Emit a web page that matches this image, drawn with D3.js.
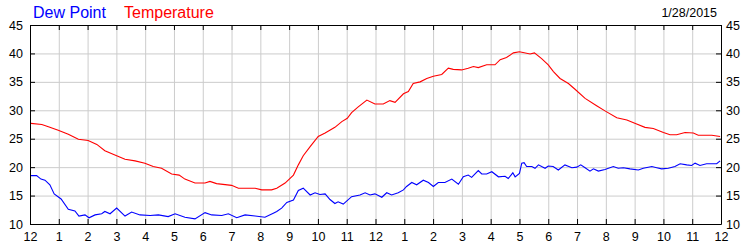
<!DOCTYPE html>
<html>
<head>
<meta charset="utf-8">
<script src="https://cdn.jsdelivr.net/npm/d3@7"></script>
<style>
  body { margin: 0; background: #fff; }
  svg { display: block; font-family: "Liberation Sans", Arial, sans-serif; }
  .grid line { stroke: #cccccc; stroke-width: 1; }
  .grid path { display: none; }
  .axis path, .axis line { stroke: #000; }
  .axis text { fill: #000; font-size: 12.5px; }
</style>
</head>
<body>
<svg id="chart" width="750" height="250"></svg>
<script>
// hours after midnight
var tempHours = [0.03,0.41,0.64,0.98,1.33,1.68,2.02,2.32,2.6,3.01,3.3,3.65,3.99,4.28,4.57,4.92,5.18,5.38,5.73,6.08,6.25,6.48,7.0,7.24,7.82,8.05,8.39,8.57,8.86,9.15,9.32,9.49,9.73,10.01,10.25,10.59,10.83,11.02,11.17,11.4,11.7,11.98,12.27,12.5,12.68,12.97,13.14,13.31,13.55,13.78,14.01,14.3,14.53,14.7,14.99,15.22,15.4,15.57,15.86,16.15,16.33,16.55,16.79,17.0,17.37,17.52,17.77,18.0,18.18,18.41,18.7,18.93,19.28,19.68,19.97,20.38,20.73,21.07,21.36,21.65,22.0,22.23,22.46,22.75,23.04,23.21,23.68,23.97];
var tempValues = [27.7,27.5,27.1,26.5,25.8,24.9,24.7,24.0,22.9,22.0,21.4,21.1,20.7,20.1,19.8,18.8,18.6,17.9,17.2,17.2,17.5,17.1,16.8,16.3,16.3,16.0,16.0,16.3,17.2,18.6,20.4,22.0,23.6,25.4,26.0,27.0,28.0,28.6,29.6,30.6,31.8,31.1,31.1,31.7,31.4,32.9,33.3,34.7,35.0,35.6,36.0,36.3,37.4,37.2,37.1,37.4,37.7,37.5,38.0,38.0,38.9,39.3,40.1,40.3,39.9,40.1,39.1,38.0,36.8,35.6,34.7,33.7,32.1,30.8,29.9,28.7,28.3,27.6,27.0,26.8,26.1,25.7,25.7,26.1,26.0,25.6,25.6,25.4];

var dewHours = [0.03,0.23,0.38,0.52,0.69,0.84,1.08,1.33,1.56,1.7,1.91,2.05,2.26,2.49,2.6,2.78,3.01,3.3,3.53,3.82,4.17,4.46,4.8,5.04,5.38,5.73,6.08,6.31,6.66,6.89,7.18,7.47,7.82,8.16,8.45,8.57,8.74,8.92,9.15,9.32,9.49,9.73,9.9,10.07,10.25,10.42,10.59,10.7,10.88,11.17,11.46,11.64,11.81,11.98,12.22,12.39,12.56,12.79,12.97,13.08,13.26,13.43,13.66,13.84,14.01,14.18,14.41,14.65,14.88,15.05,15.22,15.34,15.57,15.69,15.86,16.04,16.27,16.5,16.61,16.77,16.85,17.0,17.08,17.16,17.25,17.43,17.54,17.66,17.77,17.89,18.0,18.17,18.35,18.58,18.82,18.99,19.13,19.28,19.45,19.57,19.74,19.97,20.26,20.43,20.61,20.84,21.13,21.3,21.6,21.77,21.94,22.17,22.4,22.58,22.81,22.98,23.1,23.27,23.5,23.85,23.97];
var dewValues = [18.5,18.5,17.9,17.7,16.9,15.3,14.4,12.6,12.3,11.4,11.6,11.1,11.6,11.8,12.2,11.8,12.8,11.4,12.1,11.6,11.5,11.6,11.3,11.8,11.2,10.9,12.0,11.6,11.5,11.8,11.1,11.6,11.4,11.2,11.9,12.2,12.8,13.8,14.2,15.9,16.3,15.1,15.5,15.2,15.3,14.3,13.6,13.9,13.5,14.8,15.1,15.5,15.1,15.3,14.7,15.5,15.1,15.5,16.0,16.6,17.3,16.9,17.7,17.3,16.6,17.3,17.3,17.9,17.0,18.3,18.6,18.2,19.4,18.8,18.8,19.2,18.3,18.4,18.0,19.0,18.3,18.9,20.7,20.8,20.1,20.1,19.8,20.4,20.1,19.8,20.2,20.1,19.5,20.4,19.9,20.0,20.4,19.9,19.3,19.7,19.3,19.6,20.1,19.8,19.9,19.7,19.5,19.8,20.1,19.9,19.7,19.8,20.1,20.6,20.4,20.3,20.7,20.3,20.6,20.6,21.1];

var yTicks = [10,15,20,25,30,35,40,45];
var xTicks = d3.range(0, 25);
var dateLabel = "1/28/2015";

var svg = d3.select("#chart");
var plotLeft = 30, plotRight = 721, plotTop = 25, plotBottom = 224;

var x = d3.scaleLinear().domain([0, 24]).range([plotLeft, plotRight]);
var y = d3.scaleLinear().domain([10, 45]).range([plotBottom, plotTop]);

function hourLabel(h) { return (h % 12 === 0) ? "12" : String(h % 12); }

// grid
svg.append("g").attr("class", "grid")
    .attr("transform", "translate(0," + plotBottom + ")")
    .call(d3.axisBottom(x).tickValues(xTicks).tickSize(-(plotBottom - plotTop)).tickFormat(""));
svg.append("g").attr("class", "grid")
    .attr("transform", "translate(" + plotLeft + ",0)")
    .call(d3.axisLeft(y).tickValues(yTicks).tickSize(-(plotRight - plotLeft)).tickFormat(""));

// lines
var line = d3.line().x(function(d){ return x(d[0]); }).y(function(d){ return y(d[1]); });
svg.append("path")
    .datum(d3.zip(tempHours, tempValues))
    .attr("fill", "none").attr("stroke", "#ff0000").attr("stroke-width", 1.1)
    .attr("d", line);
svg.append("path")
    .datum(d3.zip(dewHours, dewValues))
    .attr("fill", "none").attr("stroke", "#0000ff").attr("stroke-width", 1.1)
    .attr("d", line);

// axes with inward ticks
svg.append("g").attr("class", "axis")
    .attr("transform", "translate(0," + plotBottom + ")")
    .call(d3.axisBottom(x).tickValues(xTicks).tickSizeInner(-5).tickSizeOuter(0).tickPadding(8).tickFormat(hourLabel));
svg.append("g").attr("class", "axis")
    .attr("transform", "translate(0," + plotTop + ")")
    .call(d3.axisTop(x).tickValues(xTicks).tickSizeInner(-5).tickSizeOuter(0).tickFormat(""));
svg.append("g").attr("class", "axis")
    .attr("transform", "translate(" + plotLeft + ",0)")
    .call(d3.axisLeft(y).tickValues(yTicks).tickSizeInner(-5).tickSizeOuter(0).tickPadding(7));
svg.append("g").attr("class", "axis")
    .attr("transform", "translate(" + plotRight + ",0)")
    .call(d3.axisRight(y).tickValues(yTicks).tickSizeInner(-5).tickSizeOuter(0).tickPadding(5));

// legend and date
svg.append("text").attr("x", 33).attr("y", 18).attr("fill", "#0000ff")
    .style("font-size", "16px").text("Dew Point");
svg.append("text").attr("x", 124).attr("y", 18).attr("fill", "#ff0000")
    .style("font-size", "16px").text("Temperature");
svg.append("text").attr("x", 717).attr("y", 17).attr("text-anchor", "end")
    .style("font-size", "12.5px").text(dateLabel);
</script>
</body>
</html>
